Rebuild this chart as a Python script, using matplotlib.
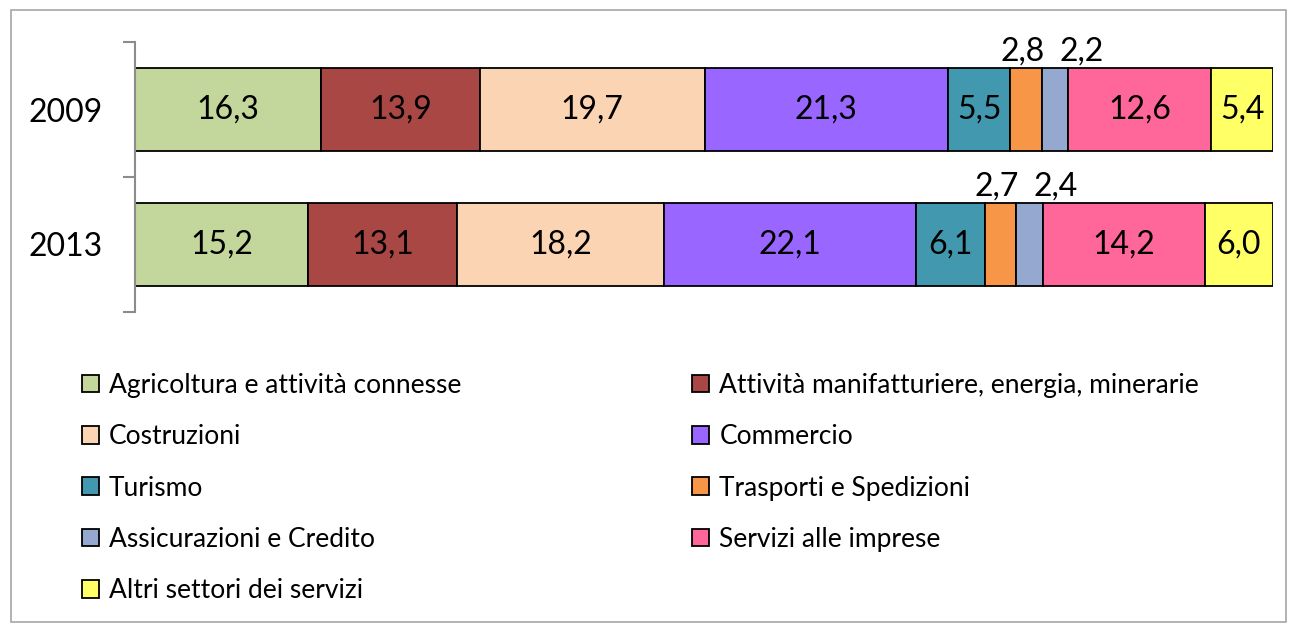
import numpy as np
import matplotlib
matplotlib.use("Agg")
import matplotlib.pyplot as plt
from matplotlib.patches import Rectangle, Patch

plt.rcParams['font.family'] = ['Lato', 'DejaVu Sans']

years = ["2009", "2013"]
sectors = [
    "Agricoltura e attività connesse",
    "Attività manifatturiere, energia, minerarie",
    "Costruzioni",
    "Commercio",
    "Turismo",
    "Trasporti e Spedizioni",
    "Assicurazioni e Credito",
    "Servizi alle imprese",
    "Altri settori dei servizi",
]
values_2009 = [16.3, 13.9, 19.7, 21.3, 5.5, 2.8, 2.2, 12.6, 5.4]
values_2013 = [15.2, 13.1, 18.2, 22.1, 6.1, 2.7, 2.4, 14.2, 6.0]
colors = ["#C3D69B", "#A94745", "#FBD4B4", "#9966FF", "#4198AF",
          "#F79646", "#95A9D0", "#FF6699", "#FFFF66"]

fig = plt.figure(figsize=(12.96, 6.24), dpi=100)
fig.patches.append(Rectangle((11 / 1296, 1 - 622 / 624), 1275 / 1296, 612 / 624,
                             transform=fig.transFigure, fill=False,
                             edgecolor="#A6A6A6", linewidth=1.2))
ax = fig.add_axes([135 / 1296, 1 - 312 / 624, 1138 / 1296, 270 / 624])

rows = [values_2009, values_2013]
ypos = [1, 0]
for vals, y in zip(rows, ypos):
    vals = np.array(vals)
    share = vals / vals.sum() * 100
    left = 0
    for i, (v, s) in enumerate(zip(vals, share)):
        ax.barh(y, s, left=left, height=0.62, color=colors[i],
                edgecolor="black", linewidth=1.3)
        cx = left + s / 2
        lab = f"{v:.1f}".replace(".", ",")
        if i == 5:
            ax.annotate(lab, (cx, y + 0.31), xytext=(-3, 1), textcoords="offset points",
                        ha="center", va="bottom", fontsize=23)
        elif i == 6:
            ax.annotate(lab, (cx, y + 0.31), xytext=(19, 1), textcoords="offset points",
                        ha="center", va="bottom", fontsize=23)
        else:
            ax.text(cx, y, lab, ha="center", va="center", fontsize=23)
        left += s

ax.set_xlim(0, 100)
ax.set_ylim(-0.5, 1.5)
ax.set_xticks([])
for side in ["top", "right", "bottom"]:
    ax.spines[side].set_visible(False)
ax.spines["left"].set_color("#8C8C8C")
ax.spines["left"].set_linewidth(1.5)
ax.set_yticks([-0.5, 0.5, 1.5])
ax.set_yticklabels([])
ax.tick_params(axis="y", which="major", length=9, width=1.5, color="#8C8C8C")
ax.set_yticks(ypos, minor=True)
ax.set_yticklabels(years, minor=True, fontsize=23)
ax.tick_params(axis="y", which="minor", length=0, pad=23)

handles = [Patch(facecolor=c, edgecolor="black", linewidth=1.3) for c in colors]
order = [0, 2, 4, 6, 8, 1, 3, 5, 7]
fig.legend([handles[k] for k in order], [sectors[k] for k in order],
           ncol=2, frameon=False, fontsize=19,
           loc="upper left", bbox_to_anchor=(58 / 1296, 1 - 349 / 624),
           handlelength=0.65, handleheight=0.65, handletextpad=0.38,
           labelspacing=1.0, columnspacing=8.75)

fig.savefig("out.png", dpi=100)
